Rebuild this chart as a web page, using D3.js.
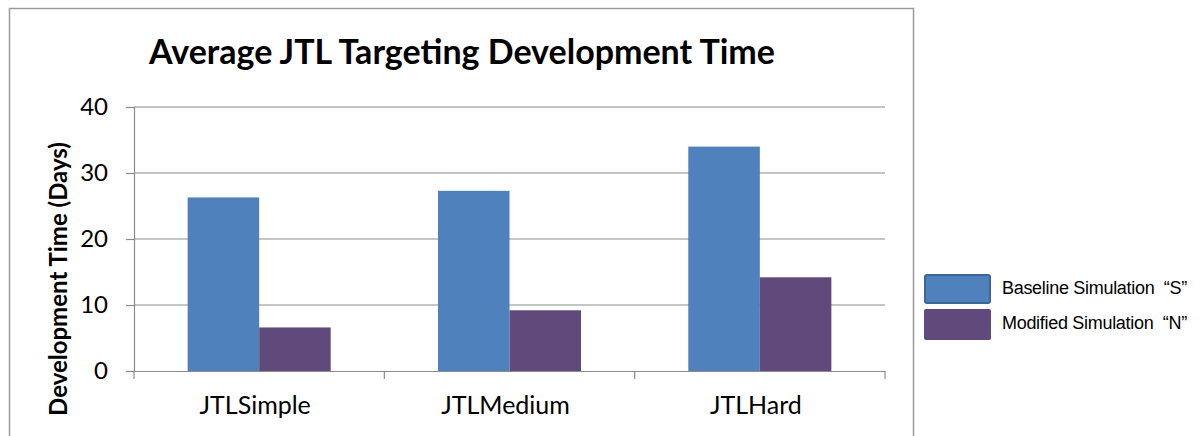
<!DOCTYPE html>
<html>
<head>
<meta charset="utf-8">
<script src="https://cdn.jsdelivr.net/npm/d3@7"></script>
<style>
  body { margin: 0; background: #fff; }
  svg { display: block; }
</style>
</head>
<body>
<svg id="chart"></svg>
<script>
const categories = ["JTLSimple", "JTLMedium", "JTLHard"]
const seriesNames = ["Baseline Simulation  \u201cS\u201d", "Modified Simulation  \u201cN\u201d"]
const baseline = [26.3, 27.3, 34.0]
const modified = [6.6, 9.2, 14.2]
const yTicks = [0, 10, 20, 30, 40]

const W = 1202, H = 436
const margin = { top: 107, left: 134, right: 317, bottom: 65 }
const width = W - margin.left - margin.right
const height = H - margin.top - margin.bottom
const FONT = 'Lato, "Open Sans", sans-serif'

const svg = d3.select('#chart').attr('width', W).attr('height', H)

// outer chart frame
svg.append('rect')
    .attr('x', 9.5).attr('y', 8.5)
    .attr('width', 904).attr('height', 440)
    .attr('fill', 'none')
    .attr('stroke', '#9a9a9a')
    .attr('stroke-width', 1.5)

const g = svg.append('g').attr('transform', `translate(${margin.left}, ${margin.top})`)

const x = d3.scaleBand().domain(categories).range([0, width])
const sub = d3.scaleBand().domain([0, 1]).range([0, x.bandwidth()]).paddingOuter(0.75).paddingInner(0)
const y = d3.scaleLinear().domain([0, 40]).range([height, 0])
const colors = ["#4f81bd", "#604a7b"]

// gridlines
g.append('g')
    .selectAll('line')
    .data(yTicks.filter(d => d > 0))
    .join('line')
        .attr('x1', 0).attr('x2', width)
        .attr('y1', d => y(d)).attr('y2', d => y(d))
        .attr('stroke', '#8c8c8c').attr('stroke-width', 1.2)

const yAxis = d3.axisLeft(y).tickValues(yTicks).tickSize(8).tickPadding(6)
const yg = g.append('g').call(yAxis)
yg.select('.domain').attr('stroke', '#8c8c8c').attr('stroke-width', 1.2)
yg.selectAll('.tick line').attr('stroke', '#8c8c8c').attr('stroke-width', 1.2)
yg.selectAll('.tick text')
    .attr('font-family', FONT)
    .attr('font-size', 24).attr('fill', '#000').attr('dx', -12)

const xAxis = d3.axisBottom(x).tickSize(0).tickPadding(25)
const xg = g.append('g').attr('transform', `translate(0, ${height})`).call(xAxis)
xg.select('.domain').attr('stroke', '#8c8c8c').attr('stroke-width', 1.2)
xg.selectAll('.tick text')
    .attr('font-family', FONT)
    .attr('font-size', 25).attr('fill', '#000').attr('dx', -4)

// category boundary ticks
g.append('g')
    .selectAll('line')
    .data(d3.range(categories.length + 1))
    .join('line')
        .attr('x1', i => i * x.step()).attr('x2', i => i * x.step())
        .attr('y1', height).attr('y2', height + 8)
        .attr('stroke', '#8c8c8c').attr('stroke-width', 1.2)

const rows = categories.map((c, i) => ({ cat: c, vals: [baseline[i], modified[i]] }))

g.append('g')
    .selectAll('g')
    .data(rows)
    .join('g')
        .attr('transform', d => `translate(${x(d.cat)}, 0)`)
        .selectAll('rect')
        .data(d => d.vals.map((v, k) => ({ k, v })))
        .join('rect')
            .attr('x', d => sub(d.k))
            .attr('width', sub.bandwidth())
            .attr('y', d => y(d.v))
            .attr('height', d => height - y(d.v))
            .attr('fill', d => colors[d.k])

// title
svg.append('text')
    .attr('x', 462).attr('y', 64)
    .attr('text-anchor', 'middle')
    .attr('font-family', FONT)
    .attr('font-weight', 'bold')
    .attr('font-size', 34)
    .text('Average JTL Targeting Development Time')

// y label
svg.append('text')
    .attr('transform', 'translate(67, 279) rotate(-90)')
    .attr('text-anchor', 'middle')
    .attr('font-family', FONT)
    .attr('font-weight', 'bold')
    .attr('font-size', 24)
    .text('Development Time (Days)')

// legend
const legend = svg.append('g').attr('transform', 'translate(924, 274)')
seriesNames.forEach((name, i) => {
    const row = legend.append('g').attr('transform', `translate(0, ${i * 35})`)
    row.append('rect')
        .attr('x', i === 0 ? 1 : 0).attr('y', i === 0 ? 1 : 0)
        .attr('width', i === 0 ? 65 : 67).attr('height', i === 0 ? 28 : 31)
        .attr('rx', 2)
        .attr('fill', colors[i])
        .attr('stroke', i === 0 ? '#3a6796' : 'none')
        .attr('stroke-width', 2)
    row.append('text')
        .attr('x', 78).attr('y', 14)
        .attr('dy', '0.35em')
        .attr('font-family', '"Liberation Sans", Arial, sans-serif')
        .attr('font-size', 18)
        .attr('letter-spacing', -0.3)
        .style('white-space', 'pre')
        .text(name)
})
</script>
</body>
</html>
